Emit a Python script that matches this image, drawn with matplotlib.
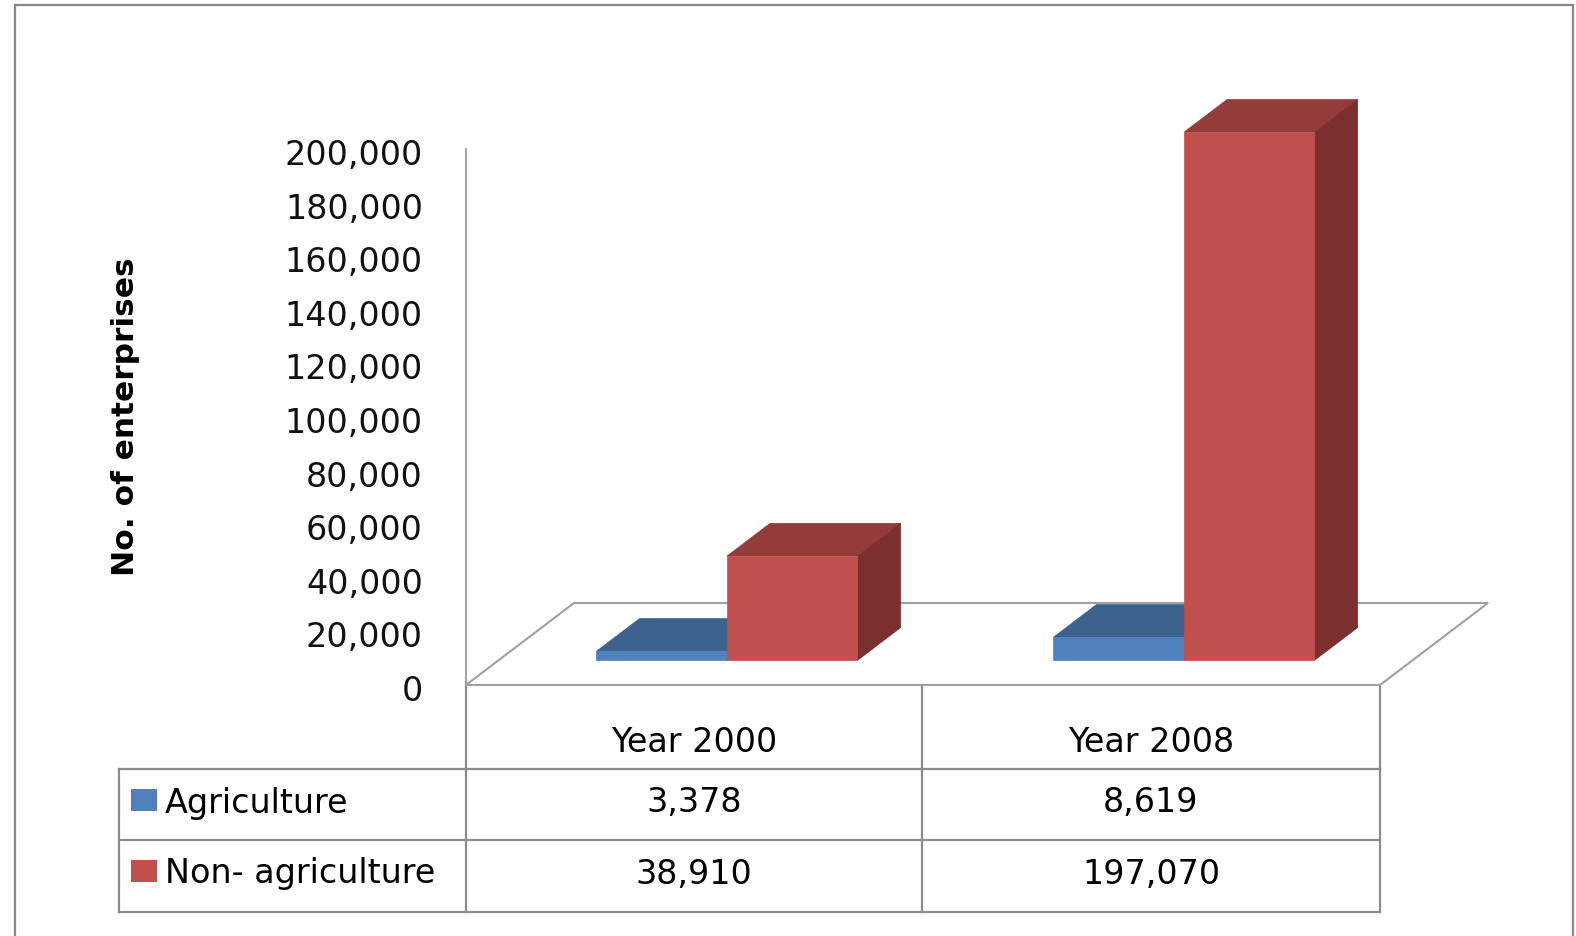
import matplotlib.pyplot as plt
from matplotlib.patches import Polygon
from matplotlib.ticker import StrMethodFormatter
from matplotlib.transforms import ScaledTranslation

# enterprises by sector
years = ['Year 2000', 'Year 2008']
series = ['Agriculture', 'Non- agriculture']
agriculture = [3378, 8619]
non_agriculture = [38910, 197070]

values = [agriculture, non_agriculture]
front_colors = ['#4F81BD', '#C0504D']
top_colors = ['#3D628D', '#943C3A']
side_colors = ['#2F4C6E', '#7B302E']

W, H = 1576, 936
fig = plt.figure(figsize=(W / 100, H / 100), dpi=100)
plt.rcParams['font.family'] = 'DejaVu Sans'

# overlay in pixel units for the frame and the data table
pix = fig.add_axes([0, 0, 1, 1])
pix.set_xlim(0, W)
pix.set_ylim(H, 0)
pix.axis('off')

# plot area: front plane of the 3-D box
x0px, x1px, y0px, y1px = 466, 1380, 685, 149
ax = fig.add_axes([x0px / W, (H - y0px) / H, (x1px - x0px) / W, (y0px - y1px) / H])
ax.patch.set_visible(False)
ax.set_xlim(0, len(years))
ax.set_ylim(0, 200000)

# floor depth vector, in data units
DX = 108 / (x1px - x0px) * len(years)
DY = 82 / (y0px - y1px) * 200000

grid = '#a0a0a0'
floor = Polygon([(0, 0), (len(years), 0), (len(years) + DX, DY), (DX, DY)],
                closed=True, fill=False, edgecolor=grid, lw=1.5, clip_on=False, zorder=1)
ax.add_patch(floor)

bw = 1 / 3.5  # gap width 150%
f0, f1 = 0.3, 0.7  # bars sit between these fractions of the floor depth
bx, by = f0 * DX, f0 * DY
ddx, ddy = (f1 - f0) * DX, (f1 - f0) * DY

z = 2
for i in range(len(years)):
    for j in range(len(series)):
        v = values[j][i]
        left = i + 0.75 * bw + j * bw + bx
        top = by + v
        ax.add_patch(Polygon([(left, top), (left + bw, top), (left + bw + ddx, top + ddy), (left + ddx, top + ddy)],
                             closed=True, facecolor=top_colors[j], edgecolor=top_colors[j], lw=0.5,
                             clip_on=False, zorder=z))
        ax.add_patch(Polygon([(left + bw, by), (left + bw + ddx, by + ddy), (left + bw + ddx, top + ddy), (left + bw, top)],
                             closed=True, facecolor=side_colors[j], edgecolor=side_colors[j], lw=0.5,
                             clip_on=False, zorder=z))
        ax.bar(left, v, bw, bottom=by, align='edge', color=front_colors[j],
               edgecolor=front_colors[j], lw=0.5, clip_on=False, zorder=z + 1)
        z += 2

for s in ['top', 'right', 'bottom']:
    ax.spines[s].set_visible(False)
ax.spines['left'].set_color('#a6a6a6')
ax.spines['left'].set_linewidth(1.5)
ax.set_xticks([])
ax.set_yticks(range(0, 200001, 20000))
ax.yaxis.set_major_formatter(StrMethodFormatter('{x:,.0f}'))
ax.tick_params(axis='y', length=0, pad=31, labelsize=24, labelcolor='#111111')
shift = ScaledTranslation(0, -3 / 100, fig.dpi_scale_trans)
for lbl in ax.get_yticklabels():
    lbl.set_transform(lbl.get_transform() + shift)

fig.text(126 / W, 1 - 417 / H, 'No. of enterprises', rotation=90, ha='center', va='center',
         fontsize=22.5, fontweight='bold')

# outer frame
frame = '#888888'
pix.plot([15, 15], [5, H + 5], color=frame, lw=1.6)
pix.plot([15, 1573], [5, 5], color=frame, lw=1.6)
pix.plot([1573, 1573], [5, H + 5], color=frame, lw=1.6)

# data table
tl = '#8a8a8a'
left_edge, col1, col2, col3 = 119, 466, 922, 1380
rows = [685, 769, 840, 912]
for y in rows[1:]:
    pix.plot([left_edge, col3], [y, y], color=tl, lw=1.6)
pix.plot([left_edge, left_edge], [rows[1], rows[3]], color=tl, lw=1.6)
for x in (col1, col2, col3):
    pix.plot([x, x], [rows[0], rows[3]], color=tl, lw=1.6)

centers = [(col1 + col2) / 2, (col2 + col3) / 2]
for c, label in zip(centers, years):
    pix.text(c, 743, label, ha='center', va='center', fontsize=24)

row_y = [803, 874]
for j, name in enumerate(series):
    pix.add_patch(plt.Rectangle((131, row_y[j] - 14), 26, 22, facecolor=front_colors[j], edgecolor='none'))
    pix.text(165, row_y[j], name, ha='left', va='center', fontsize=24)
    for i, c in enumerate(centers):
        pix.text(c, row_y[j], f'{values[j][i]:,}', ha='center', va='center', fontsize=24)

plt.savefig('out.png', dpi=100)
